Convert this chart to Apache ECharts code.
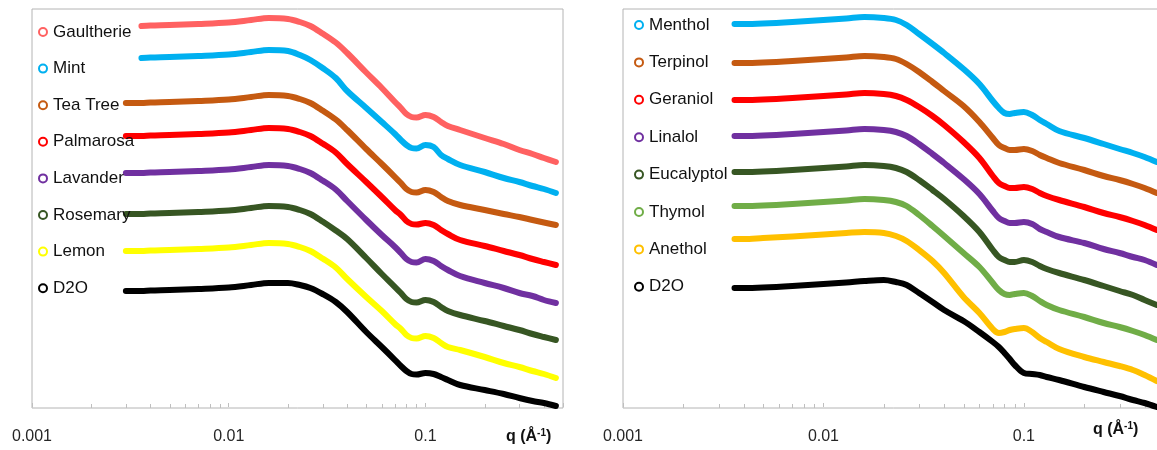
<!DOCTYPE html>
<html><head><meta charset="utf-8">
<script src="https://cdn.jsdelivr.net/npm/echarts@6/dist/echarts.min.js"></script>
<style>html,body{margin:0;padding:0;background:#fff;overflow:hidden;width:1157px;height:450px}#c{width:1175px;height:450px}</style>
</head><body><div id="c"></div>
<script>
// ---- data (y = log intensity, arbitrary units, curves offset for clarity) ----
const qL = [0.003,0.0036,0.004,0.005,0.007,0.01,0.013,0.016,0.02,0.023,0.026,0.03,0.035,0.04,0.05,0.06,0.07,0.075,0.08,0.085,0.09,0.1,0.11,0.12,0.13,0.15,0.2,0.25,0.3,0.35,0.4,0.46];
const gaultherie = [null,38.1,38.15,38.2,38.3,38.45,38.7,38.9,38.8,38.5,38.1,37.35,36.45,35.4,33.45,31.9,30.5,29.9,29.3,29.0,28.95,29.2,29.0,28.5,28.1,27.7,26.9,26.3,25.7,25.3,24.9,24.5];
const mint = [null,34.9,34.95,35.0,35.1,35.25,35.5,35.7,35.6,35.2,34.7,33.9,32.9,31.6,29.9,28.5,27.3,26.7,26.2,25.9,25.85,26.2,26.0,25.2,24.8,24.2,23.5,22.9,22.5,22.1,21.8,21.4];
const teaTree = [30.4,30.4,30.45,30.5,30.6,30.75,31.0,31.2,31.1,30.8,30.4,29.65,28.75,27.7,25.8,24.3,23.0,22.4,21.8,21.5,21.45,21.7,21.5,21.0,20.6,20.2,19.7,19.3,19.0,18.7,18.45,18.2];
const palmarosa = [27.1,27.1,27.15,27.2,27.3,27.45,27.7,27.9,27.8,27.5,27.1,26.35,25.45,24.3,22.5,21.0,19.7,19.2,18.6,18.3,18.25,18.4,18.2,17.7,17.3,16.7,16.1,15.6,15.2,14.8,14.5,14.2];
const lavander = [23.4,23.4,23.45,23.5,23.6,23.75,24.0,24.2,24.1,23.8,23.4,22.65,21.75,20.6,18.7,17.2,16.0,15.4,14.8,14.5,14.45,14.8,14.6,14.1,13.7,13.1,12.4,11.9,11.4,11.1,10.7,10.4];
const rosemary = [19.3,19.3,19.35,19.4,19.5,19.65,19.9,20.1,20.0,19.7,19.3,18.55,17.65,16.8,14.9,13.3,12.0,11.4,10.8,10.5,10.45,10.7,10.5,10.0,9.6,9.2,8.6,8.1,7.7,7.3,7.0,6.7];
const lemon = [15.6,15.6,15.65,15.7,15.8,15.95,16.2,16.4,16.3,16.0,15.6,14.85,13.95,12.8,11.0,9.6,8.3,7.8,7.2,6.9,6.85,7.1,6.9,6.4,6.0,5.7,5.0,4.4,4.0,3.6,3.3,2.9];
const d2oL = [11.6,11.6,11.65,11.7,11.8,11.95,12.2,12.4,12.4,12.2,11.9,11.3,10.5,9.5,7.5,6.0,4.7,4.1,3.6,3.3,3.25,3.4,3.3,3.0,2.7,2.2,1.7,1.3,0.9,0.6,0.4,0.1];

const qR = [0.0036,0.004,0.005,0.007,0.01,0.013,0.016,0.02,0.023,0.026,0.03,0.035,0.04,0.05,0.06,0.07,0.075,0.08,0.085,0.09,0.1,0.11,0.12,0.13,0.15,0.2,0.25,0.3,0.35,0.4,0.46];
const menthol = [38.3,38.3,38.35,38.5,38.7,38.85,39.0,38.9,38.7,38.2,37.3,36.3,35.4,33.8,32.3,30.6,29.9,29.4,29.3,29.4,29.5,29.2,28.7,28.3,27.6,26.9,26.3,25.8,25.4,25.0,24.5];
const terpinol = [34.4,34.4,34.45,34.6,34.8,34.95,35.1,35.0,34.8,34.3,33.5,32.5,31.6,30.1,28.5,26.9,26.2,25.9,25.7,25.7,25.8,25.6,25.2,24.9,24.4,23.7,23.1,22.7,22.3,21.9,21.4];
const geraniol = [30.7,30.7,30.75,30.9,31.1,31.25,31.4,31.3,31.1,30.7,30.0,29.1,28.2,26.5,24.9,23.1,22.4,22.1,21.9,21.9,22.0,21.8,21.4,21.1,20.7,20.0,19.4,19.0,18.6,18.2,17.7];
const linalol = [27.1,27.1,27.15,27.3,27.5,27.65,27.8,27.7,27.5,27.1,26.3,25.3,24.4,22.8,21.3,19.6,18.9,18.6,18.4,18.4,18.5,18.3,17.8,17.5,17.0,16.4,15.8,15.4,15.0,14.7,14.2];
const eucalyptol = [23.5,23.5,23.55,23.7,23.9,24.05,24.2,24.1,23.9,23.5,22.7,21.7,20.8,19.1,17.5,15.7,15.0,14.7,14.5,14.5,14.7,14.5,14.1,13.8,13.4,12.7,12.1,11.6,11.2,10.7,10.2];
const thymol = [20.1,20.1,20.15,20.3,20.5,20.65,20.8,20.7,20.5,20.1,19.2,18.1,17.1,15.4,14.0,12.4,11.7,11.3,11.2,11.3,11.4,11.1,10.6,10.2,9.7,9.0,8.4,8.0,7.6,7.2,6.7];
const anethol = [16.8,16.8,16.9,17.05,17.25,17.4,17.5,17.4,17.1,16.6,15.7,14.6,13.4,11.0,9.4,7.8,7.4,7.5,7.7,7.8,7.9,7.5,6.9,6.5,5.8,5.0,4.5,4.1,3.7,3.2,2.6];
const d2oR = [11.9,11.9,11.95,12.1,12.3,12.45,12.6,12.7,12.5,12.2,11.4,10.5,9.7,8.6,7.5,6.5,6.0,5.4,4.8,4.2,3.4,3.3,3.2,3.0,2.7,2.0,1.5,1.1,0.7,0.4,0.0];

const namesL = ['Gaultherie','Mint','Tea Tree','Palmarosa','Lavander','Rosemary','Lemon','D2O'];
const namesR = ['Menthol','Terpinol','Geraniol','Linalol','Eucalyptol','Thymol','Anethol','D2O'];
const valuesL = [gaultherie, mint, teaTree, palmarosa, lavander, rosemary, lemon, d2oL];
const valuesR = [menthol, terpinol, geraniol, linalol, eucalyptol, thymol, anethol, d2oR];
const colorsL = ['#FF6161','#00B0F0','#C55A11','#FF0000','#7030A0','#375623','#FFFF00','#000000'];
const colorsR = ['#00B0F0','#C55A11','#FF0000','#7030A0','#375623','#70AD47','#FFC000','#000000'];

const tickVals = [0.001, 0.01, 0.1];
const tickLabels = ['0.001', '0.01', '0.1'];
const minorTicks = [0.002,0.003,0.004,0.005,0.006,0.007,0.008,0.009,0.02,0.03,0.04,0.05,0.06,0.07,0.08,0.09,0.2,0.3,0.4];
const xMin = 0.001, xMax = 0.5, yMin = -0.1, yMax = 39.8;

// ---- chart ----
const FONT = 'Liberation Sans, Arial, sans-serif';
const chart = echarts.init(document.getElementById('c'), null, {renderer: 'canvas'});

function lineSeries(name, color, q, vals, idx) {
  const data = [];
  q.forEach((x, i) => { if (vals[i] !== null) data.push([x, vals[i]]); });
  return {
    type: 'line', name, xAxisIndex: idx, yAxisIndex: idx, data,
    smooth: 0.35, showSymbol: false, symbol: 'emptyCircle', symbolSize: 7,
    clip: false, color,
    lineStyle: {width: 6, color, cap: 'round', join: 'round'},
    itemStyle: {color, borderColor: color, borderWidth: 1.3},
    emphasis: {disabled: true}, silent: true
  };
}
function tickSeries(idx) {
  return {
    type: 'custom', xAxisIndex: idx, yAxisIndex: idx, silent: true, clip: false, z: 1,
    data: minorTicks.map(v => [v, yMin]),
    renderItem: (p, api) => {
      const pt = api.coord([api.value(0), yMin]);
      const x = Math.round(pt[0]) + 0.5;
      return {type: 'line', shape: {x1: x, y1: pt[1], x2: x, y2: pt[1] - 4},
              style: {stroke: '#bfbfbf', lineWidth: 1}};
    }
  };
}
function xAxis(idx) {
  return {
    type: 'log', logBase: 10, min: xMin, max: xMax, gridIndex: idx,
    axisLine: {show: false}, splitLine: {show: false},
    axisTick: {show: true, inside: true, length: 4, lineStyle: {color: '#bfbfbf'}},
    axisLabel: {
      fontSize: 16, fontFamily: FONT, color: '#262626', margin: 21,
      formatter: v => {
        const i = tickVals.findIndex(t => Math.abs(Math.log10(t / v)) < 1e-6);
        return i >= 0 ? tickLabels[i] : '';
      }
    }
  };
}
function yAxis(idx) {
  return {type: 'value', gridIndex: idx, min: yMin, max: yMax, show: false};
}
function legend(names, left, top, gap) {
  return {
    data: names, orient: 'vertical', left, top, padding: 0, itemGap: gap,
    icon: 'emptyCircle', itemWidth: 8, itemHeight: 8, selectedMode: false,
    itemStyle: {borderWidth: 1.2},
    textStyle: {fontSize: 17, fontFamily: FONT, color: '#111', lineHeight: 20, padding: [0, 0, 0, 1]}
  };
}
const qText = (left, top) => ({
  type: 'text', left, top,
  style: {
    text: '{a|q (Å}{s|-1}{a|)}',
    rich: {
      a: {fontSize: 16, fontWeight: 'bold', fontFamily: FONT, fill: '#111', lineHeight: 18},
      s: {fontSize: 10, fontWeight: 'bold', fontFamily: FONT, fill: '#111', lineHeight: 10, verticalAlign: 'top'}
    }
  }
});

const series = [tickSeries(0), tickSeries(1)];
namesL.forEach((n, i) => series.push(lineSeries(n, colorsL[i], qL, valuesL[i], 0)));
namesR.forEach((n, i) => series.push(lineSeries(n, colorsR[i], qR, valuesR[i], 1)));

chart.setOption({
  animation: false,
  backgroundColor: '#fff',
  grid: [
    {left: 32, width: 531, top: 9, bottom: 42, show: true, borderColor: '#b4b4b4', borderWidth: 1},
    {left: 623, width: 541, top: 9, bottom: 42, show: true, borderColor: '#b4b4b4', borderWidth: 1}
  ],
  xAxis: [xAxis(0), xAxis(1)],
  yAxis: [yAxis(0), yAxis(1)],
  legend: [legend(namesL, 38, 22, 16.6), legend(namesR, 634, 15, 17.4)],
  graphic: [qText(506, 428), qText(1093, 421)],
  series
});
</script></body></html>
